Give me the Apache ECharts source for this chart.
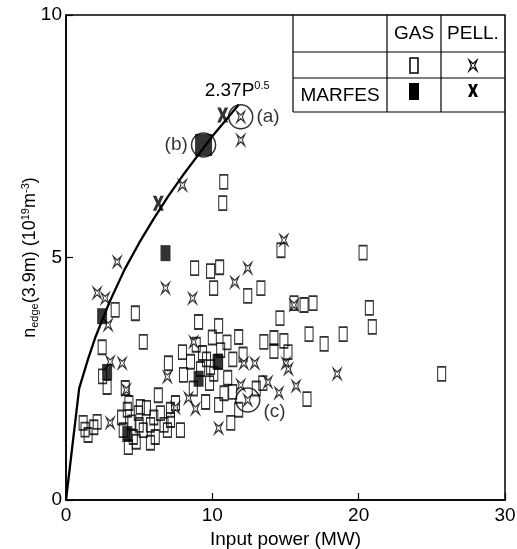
<html style="height: 100%">
<head>
<meta charset="utf-8">
</head>
<body style="height: 100%; margin: 0">
	<div id="container" style="height: 100%"></div>

	<script src="https://cdn.jsdelivr.net/npm/echarts@6/dist/echarts.min.js"></script>
	<script type="text/javascript">
		var dom = document.getElementById("container");
		var myChart = echarts.init(dom);

		var font = "'Liberation Sans', Arial, sans-serif";

		// axis ticks
		var xTicks = [0, 10, 20, 30];
		var yTicks = [0, 5, 10];

		// gas puff, no MARFE (open rectangles)
		var gasOpen = [
			[10.78, 6.56], [10.71, 6.12], [8.79, 4.78], [9.88, 4.72], [10.5, 4.8], [10.09, 4.37],
			[12.42, 4.21], [13.32, 4.37], [14.69, 5.15], [20.3, 5.1], [9.06, 3.67], [10.43, 3.59],
			[14.62, 3.75], [15.58, 4.06], [16.27, 4.02], [16.88, 4.06], [20.73, 3.96], [20.93, 3.57],
			[16.61, 3.42], [17.64, 3.22], [18.94, 3.42], [14.21, 3.34], [14.21, 3.07], [14.89, 3.28],
			[15.17, 3.05], [25.67, 2.6], [16.47, 2.08], [13.45, 2.41], [11.8, 3.36], [13.52, 3.26],
			[7.96, 3.05], [7.0, 2.82], [9.33, 3.03], [8.51, 2.85], [10.57, 3.09], [9.88, 2.74],
			[8.03, 2.58], [11.05, 2.52], [9.81, 2.41], [11.39, 2.23], [9.54, 2.02], [10.43, 1.96],
			[11.8, 1.86], [11.26, 1.59], [7.82, 1.44], [6.93, 1.44], [7.14, 1.86], [7.48, 2.0],
			[2.47, 3.15], [3.36, 3.92], [4.74, 3.85], [5.28, 3.26], [2.81, 2.33], [4.05, 2.31],
			[6.31, 2.16], [1.17, 1.59], [2.13, 1.61], [1.51, 1.34], [4.19, 1.86], [4.94, 1.79],
			[3.91, 1.44], [4.26, 1.09], [5.77, 1.18], [5.28, 1.44], [6.45, 1.79], [5.08, 1.92],
			[5.77, 1.55], [7.14, 1.65], [2.5, 2.55], [4.6, 1.3], [6.0, 1.7], [10.43, 2.85],
			[11.0, 3.25], [13.0, 2.3], [1.3, 1.45], [1.9, 1.5],
			[4.5, 1.6], [4.8, 1.2], [5.5, 1.9], [6.1, 1.3], [4.3, 2.0], [3.8, 1.7], [5.0, 1.55], [6.7, 1.55],
			[8.9, 3.2], [9.6, 2.9], [10.1, 2.6], [10.8, 2.2], [8.7, 2.3], [9.2, 2.7], [11.4, 2.9],
			[12.1, 3.0], [10.0, 3.35]
		];

		// gas puff with MARFE (filled rectangles)
		var gasMarfes = [
			[9.4, 7.32], [6.8, 5.09], [2.47, 3.79], [2.81, 2.64], [9.06, 2.5], [10.36, 2.85], [4.19, 1.36]
		];

		// pellet, no MARFE
		var pelletOpen = [
			[11.94, 7.9], [11.94, 7.42], [7.96, 6.49], [3.5, 4.91], [6.8, 4.37], [2.13, 4.27],
			[2.68, 4.16], [2.88, 3.61], [3.02, 2.85], [3.84, 2.82], [4.12, 2.27], [3.02, 1.59],
			[6.93, 2.54], [8.72, 3.26], [12.15, 2.82], [12.9, 2.82], [8.37, 2.1], [8.85, 1.88],
			[11.94, 2.37], [10.43, 1.48], [7.48, 1.9], [12.42, 2.06], [14.89, 5.36], [12.42, 4.78],
			[11.53, 4.49], [8.65, 4.16], [15.58, 4.02], [15.03, 2.82], [18.53, 2.6], [15.72, 2.35],
			[14.55, 2.21], [13.8, 2.43], [15.2, 2.7]
		];

		// pellet with MARFE
		var pelletMarfes = [[6.31, 6.12], [10.71, 7.94]];

		// fitted curve 2.37 P^0.5 as drawn
		var fitCurve = [
			[0, 0], [0.9, 2.3], [1.5, 2.9], [2, 3.35], [3, 4.1], [4, 4.75], [5, 5.3], [6, 5.8],
			[7, 6.27], [8, 6.7], [9, 7.1], [10, 7.5], [11, 7.86], [11.8, 8.15]
		];

		// circled cases
		var circled = [[11.94, 7.9], [9.4, 7.32], [12.42, 2.06]];
		var circleLabels = ['(a)', '(b)', '(c)'];

		var pelletPts = [[0, 0], [5, 4], [10, 0], [7, 6], [10, 12], [5, 8], [0, 12], [3, 6]];
		var boldXPts = [[0, 0], [3.2, 0], [5, 4.2], [6.8, 0], [10, 0], [6.8, 6.5], [10, 13], [6.8, 13], [5, 8.8], [3.2, 13], [0, 13], [3.2, 6.5]];

		function toPath(pts) {
			return 'path://M' + pts.map(function (p) { return p[0] + ',' + p[1]; }).join(' L') + ' Z';
		}
		var pelletPath = toPath(pelletPts);
		var boldXPath = toPath(boldXPts);

		function place(pts, x, y, w, h, bw, bh) {
			return pts.map(function (p) { return [x + p[0] / bw * w, y + p[1] / bh * h]; });
		}

		function buildTable() {
			var g = [];
			var line = function (x1, y1, x2, y2) {
				g.push({ type: 'line', shape: { x1: x1, y1: y1, x2: x2, y2: y2 }, style: { stroke: '#000', lineWidth: 1.2 }, z: 10 });
			};
			line(293, 15, 293, 112);
			line(387, 15, 387, 112);
			line(441, 15, 441, 112);
			line(293, 52, 505, 52);
			line(293, 78, 505, 78);
			line(293, 112, 505, 112);
			var txt = function (t, x, y) {
				g.push({ type: 'text', x: x, y: y, style: { text: t, font: '19px ' + font, fill: '#000', align: 'center', verticalAlign: 'middle' }, z: 10 });
			};
			txt('GAS', 414, 34);
			txt('PELL.', 473, 34);
			txt('MARFES', 340, 96);
			g.push({ type: 'rect', shape: { x: 410, y: 58, width: 8, height: 15 }, style: { fill: '#fff', stroke: '#000', lineWidth: 1.5 }, z: 10 });
			g.push({ type: 'rect', shape: { x: 409, y: 83, width: 10, height: 17 }, style: { fill: '#000' }, z: 10 });
			g.push({ type: 'polygon', shape: { points: place(pelletPts, 469, 60, 8, 11, 10, 12) }, style: { fill: '#fff', stroke: '#000', lineWidth: 1.2 }, z: 10 });
			g.push({ type: 'polygon', shape: { points: place(boldXPts, 468, 84, 10, 13, 10, 13) }, style: { fill: '#000' }, z: 10 });
			return g;
		}

		var option = {
			animation: false,
			backgroundColor: '#fff',
			grid: {
				left: 66, right: 12, top: 15, bottom: 49, outerBoundsMode: 'none',
				show: true, borderColor: '#000', borderWidth: 1.5
			},
			xAxis: {
				type: 'value', min: xTicks[0], max: xTicks[xTicks.length - 1], interval: 10,
				name: 'Input power (MW)', nameLocation: 'middle', nameGap: 30,
				nameTextStyle: { fontFamily: font, fontSize: 19, color: '#000' },
				axisLine: { lineStyle: { color: '#000', width: 1.5 } },
				axisTick: { inside: true, length: 7, lineStyle: { color: '#000', width: 1.2 } },
				axisLabel: { fontFamily: font, fontSize: 19, color: '#000', margin: 6 },
				splitLine: { show: false }
			},
			yAxis: {
				type: 'value', min: yTicks[0], max: yTicks[yTicks.length - 1], interval: 5,
				name: '{n|n}{s|edge}{n|(3.9m) (10}{p|19}{n|m}{p|-3}{n|)}',
				nameLocation: 'middle', nameGap: 24, nameMoveOverlap: false,
				nameTextStyle: {
					color: '#000',
					rich: {
						n: { fontFamily: font, fontSize: 18, color: '#000', lineHeight: 24 },
						s: { fontFamily: font, fontSize: 11, color: '#000', padding: [9, 0, 0, 0] },
						p: { fontFamily: font, fontSize: 11, color: '#000', padding: [0, 0, 9, 0] }
					}
				},
				axisLine: { lineStyle: { color: '#000', width: 1.5 } },
				axisTick: { inside: true, length: 7, lineStyle: { color: '#000', width: 1.2 } },
				axisLabel: { fontFamily: font, fontSize: 19, color: '#000', margin: 4 },
				splitLine: { show: false }
			},
			graphic: buildTable(),
			series: [
				{
					name: 'gas', type: 'scatter', data: gasOpen,
					symbol: 'rect', symbolSize: [8, 14],
					itemStyle: { color: 'rgba(0,0,0,0)', borderColor: '#000', borderWidth: 1.4 }
				},
				{
					name: 'pellet', type: 'scatter', data: pelletOpen,
					symbol: pelletPath, symbolSize: [8, 11],
					itemStyle: { color: '#fff', borderColor: '#000', borderWidth: 1.2 }
				},
				{
					name: 'gas MARFES', type: 'scatter',
					data: gasMarfes.map(function (p, i) {
						return i === 0 ? { value: p, symbolSize: [17, 22] } : p;
					}),
					symbol: 'rect', symbolSize: [10, 16],
					itemStyle: { color: '#000' }
				},
				{
					name: 'pellet MARFES', type: 'scatter', data: pelletMarfes,
					symbol: boldXPath, symbolSize: [11, 15],
					itemStyle: { color: '#000' }
				},
				{
					name: 'fit', type: 'line', data: fitCurve, showSymbol: false, smooth: false,
					lineStyle: { color: '#000', width: 2.3 },
					z: 5,
					endLabel: {
						show: true, formatter: '{a|2.37P}{b|0.5}',
						offset: [-42, -14],
						rich: {
							a: { fontFamily: font, fontSize: 19, color: '#000' },
							b: { fontFamily: font, fontSize: 11, color: '#000', padding: [0, 0, 9, 0] }
						}
					}
				},
				{
					name: 'circled', type: 'scatter',
					data: circled.map(function (p, i) {
						var pos = ['right', 'left', 'right'][i];
						var off = [[0, 0], [0, 0], [0, 12]][i];
						return { value: p, label: { show: true, formatter: circleLabels[i], position: pos, offset: off, distance: 3 } };
					}),
					symbol: 'circle', symbolSize: 24,
					itemStyle: { color: 'rgba(0,0,0,0)', borderColor: '#000', borderWidth: 1.5 },
					label: { fontFamily: font, fontSize: 19, color: '#000' },
					z: 6
				}
			]
		};

		myChart.setOption(option);
	</script>
</body>
</html>
